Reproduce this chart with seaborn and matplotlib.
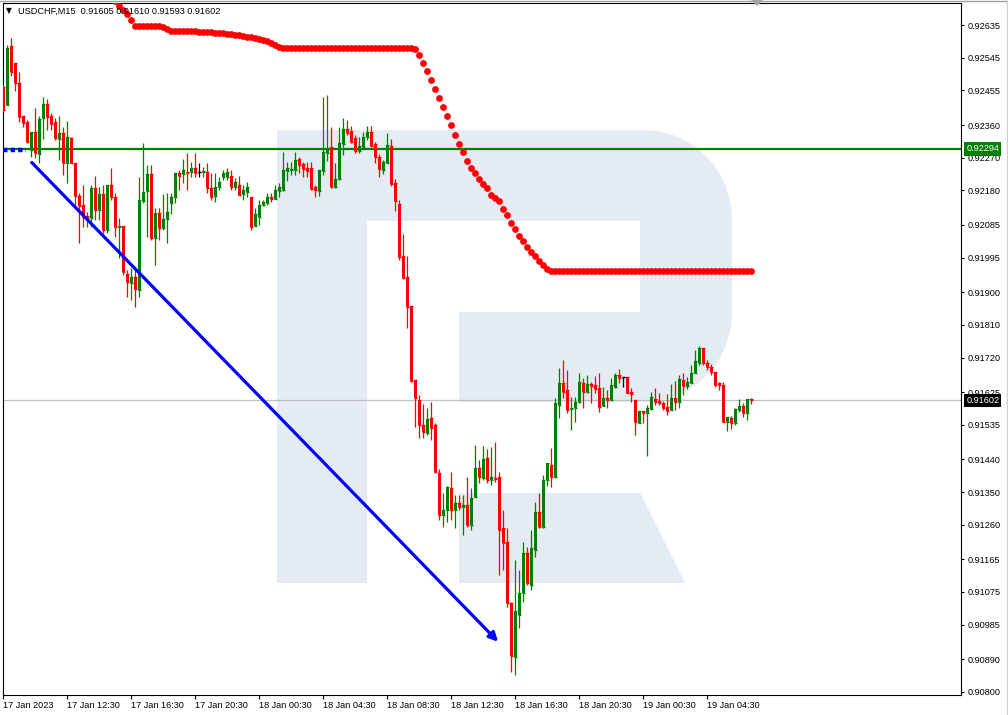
import matplotlib
matplotlib.use("Agg")
import matplotlib.pyplot as plt
import matplotlib.transforms as mtransforms
from matplotlib.lines import Line2D
from matplotlib.patches import PathPatch, Polygon
from matplotlib.path import Path
import numpy as np
import pandas as pd
import seaborn as sns

sns.set_theme(style="white")
plt.rcParams["font.family"] = ["Liberation Sans", "DejaVu Sans"]

# ──────────────────────────────────────────────────────────────────
# Data: USDCHF M15 candles (index 0 = 17 Jan 08:30)
# ──────────────────────────────────────────────────────────────────

opens = [
    0.92465, 0.92415, 0.92577, 0.92531, 0.92476, 0.92385, 0.92368, 0.92291, 0.92341, 0.92280,
    0.92379, 0.92418, 0.92385, 0.92368, 0.92321, 0.92338, 0.92255, 0.92324, 0.92255, 0.92165,
    0.92140, 0.92110, 0.92104, 0.92187, 0.92126, 0.92170, 0.92071, 0.92195, 0.92162, 0.92079,
    0.92082, 0.91950, 0.91925, 0.91942, 0.91906, 0.92151, 0.92178, 0.92225, 0.92049, 0.92118,
    0.92077, 0.92101, 0.92145, 0.92162, 0.92228, 0.92225, 0.92231, 0.92231, 0.92242, 0.92231,
    0.92231, 0.92231, 0.92187, 0.92165, 0.92189, 0.92217, 0.92217, 0.92220, 0.92189, 0.92195,
    0.92170, 0.92176, 0.92162, 0.92082, 0.92107, 0.92140, 0.92145, 0.92162, 0.92156, 0.92178,
    0.92181, 0.92233, 0.92236, 0.92236, 0.92266, 0.92253, 0.92242, 0.92242, 0.92189, 0.92178,
    0.92233, 0.92283, 0.92299, 0.92189, 0.92211, 0.92308, 0.92349, 0.92343, 0.92324, 0.92288,
    0.92299, 0.92327, 0.92341, 0.92308, 0.92272, 0.92236, 0.92255, 0.92302, 0.92200, 0.92143,
    0.91999, 0.91942, 0.91862, 0.91658, 0.91603, 0.91534, 0.91512, 0.91554, 0.91534, 0.91402,
    0.91287, 0.91300, 0.91361, 0.91300, 0.91320, 0.91309, 0.91314, 0.91259, 0.91336, 0.91416,
    0.91389, 0.91444, 0.91383, 0.91389, 0.91391, 0.91251, 0.91212, 0.91045, 0.90896, 0.91012,
    0.91072, 0.91182, 0.91094, 0.91190, 0.91295, 0.91254, 0.91383, 0.91424, 0.91391, 0.91589,
    0.91650, 0.91631, 0.91578, 0.91581, 0.91598, 0.91650, 0.91625, 0.91647, 0.91644, 0.91636,
    0.91587, 0.91609, 0.91603, 0.91639, 0.91672, 0.91666, 0.91666, 0.91625, 0.91603, 0.91540,
    0.91573, 0.91567, 0.91578, 0.91606, 0.91600, 0.91595, 0.91584, 0.91576, 0.91609, 0.91598,
    0.91658, 0.91642, 0.91650, 0.91677, 0.91705, 0.91746, 0.91705, 0.91694, 0.91680, 0.91650,
    0.91644, 0.91543, 0.91554, 0.91540, 0.91576, 0.91587, 0.91567, 0.91605,
]

highs = [
    0.92470, 0.92580, 0.92599, 0.92531, 0.92506, 0.92385, 0.92374, 0.92341, 0.92407, 0.92385,
    0.92437, 0.92432, 0.92393, 0.92379, 0.92385, 0.92354, 0.92371, 0.92327, 0.92255, 0.92173,
    0.92195, 0.92121, 0.92195, 0.92220, 0.92189, 0.92195, 0.92195, 0.92242, 0.92173, 0.92104,
    0.92082, 0.91961, 0.91966, 0.91961, 0.92217, 0.92310, 0.92250, 0.92250, 0.92132, 0.92132,
    0.92170, 0.92173, 0.92173, 0.92228, 0.92236, 0.92266, 0.92283, 0.92258, 0.92283, 0.92255,
    0.92244, 0.92255, 0.92228, 0.92228, 0.92217, 0.92236, 0.92242, 0.92236, 0.92214, 0.92220,
    0.92195, 0.92203, 0.92162, 0.92132, 0.92154, 0.92154, 0.92173, 0.92173, 0.92195, 0.92200,
    0.92286, 0.92258, 0.92258, 0.92286, 0.92272, 0.92258, 0.92258, 0.92258, 0.92195, 0.92236,
    0.92437, 0.92443, 0.92354, 0.92255, 0.92354, 0.92379, 0.92374, 0.92357, 0.92332, 0.92327,
    0.92341, 0.92357, 0.92357, 0.92313, 0.92280, 0.92264, 0.92338, 0.92321, 0.92211, 0.92154,
    0.92060, 0.91999, 0.91862, 0.91658, 0.91617, 0.91592, 0.91581, 0.91598, 0.91540, 0.91413,
    0.91347, 0.91367, 0.91405, 0.91342, 0.91342, 0.91342, 0.91391, 0.91361, 0.91479, 0.91438,
    0.91477, 0.91468, 0.91474, 0.91488, 0.91405, 0.91300, 0.91251, 0.91047, 0.91163, 0.91135,
    0.91212, 0.91199, 0.91245, 0.91323, 0.91347, 0.91397, 0.91430, 0.91471, 0.91609, 0.91691,
    0.91713, 0.91686, 0.91611, 0.91611, 0.91677, 0.91664, 0.91672, 0.91653, 0.91669, 0.91677,
    0.91639, 0.91631, 0.91664, 0.91677, 0.91688, 0.91666, 0.91666, 0.91636, 0.91603, 0.91573,
    0.91573, 0.91589, 0.91625, 0.91636, 0.91622, 0.91600, 0.91620, 0.91647, 0.91655, 0.91672,
    0.91677, 0.91666, 0.91700, 0.91741, 0.91752, 0.91746, 0.91713, 0.91702, 0.91680, 0.91653,
    0.91653, 0.91556, 0.91559, 0.91581, 0.91606, 0.91595, 0.91606, 0.91610,
]

lows = [
    0.92396, 0.92415, 0.92495, 0.92454, 0.92368, 0.92354, 0.92310, 0.92272, 0.92269, 0.92255,
    0.92321, 0.92346, 0.92346, 0.92319, 0.92264, 0.92222, 0.92200, 0.92255, 0.92140, 0.92035,
    0.92079, 0.92079, 0.92079, 0.92099, 0.92099, 0.92063, 0.92063, 0.92154, 0.92052, 0.91994,
    0.91947, 0.91887, 0.91878, 0.91859, 0.91887, 0.92145, 0.92052, 0.92044, 0.91975, 0.92044,
    0.92071, 0.92035, 0.92115, 0.92145, 0.92181, 0.92200, 0.92181, 0.92217, 0.92217, 0.92217,
    0.92217, 0.92173, 0.92154, 0.92148, 0.92181, 0.92209, 0.92209, 0.92181, 0.92181, 0.92167,
    0.92154, 0.92162, 0.92071, 0.92082, 0.92085, 0.92137, 0.92140, 0.92148, 0.92156, 0.92162,
    0.92178, 0.92206, 0.92222, 0.92222, 0.92228, 0.92217, 0.92217, 0.92181, 0.92162, 0.92165,
    0.92222, 0.92261, 0.92187, 0.92187, 0.92209, 0.92277, 0.92332, 0.92310, 0.92283, 0.92283,
    0.92297, 0.92319, 0.92299, 0.92255, 0.92217, 0.92225, 0.92255, 0.92192, 0.92123, 0.91988,
    0.91936, 0.91801, 0.91653, 0.91529, 0.91499, 0.91499, 0.91507, 0.91493, 0.91402, 0.91273,
    0.91254, 0.91267, 0.91273, 0.91251, 0.91300, 0.91232, 0.91254, 0.91245, 0.91336, 0.91375,
    0.91383, 0.91375, 0.91369, 0.91378, 0.91122, 0.91135, 0.91034, 0.90855, 0.90846, 0.90976,
    0.91047, 0.91094, 0.91080, 0.91171, 0.91251, 0.91251, 0.91367, 0.91364, 0.91389, 0.91554,
    0.91609, 0.91567, 0.91521, 0.91543, 0.91595, 0.91581, 0.91622, 0.91595, 0.91622, 0.91570,
    0.91587, 0.91581, 0.91603, 0.91636, 0.91650, 0.91639, 0.91622, 0.91598, 0.91507, 0.91540,
    0.91540, 0.91449, 0.91576, 0.91589, 0.91589, 0.91576, 0.91562, 0.91576, 0.91576, 0.91581,
    0.91617, 0.91633, 0.91650, 0.91677, 0.91700, 0.91700, 0.91686, 0.91672, 0.91639, 0.91631,
    0.91543, 0.91518, 0.91523, 0.91534, 0.91570, 0.91556, 0.91548, 0.91593,
]

closes = [
    0.92401, 0.92572, 0.92506, 0.92476, 0.92382, 0.92366, 0.92313, 0.92341, 0.92283, 0.92377,
    0.92418, 0.92382, 0.92363, 0.92324, 0.92338, 0.92255, 0.92327, 0.92255, 0.92165, 0.92137,
    0.92107, 0.92104, 0.92187, 0.92126, 0.92170, 0.92071, 0.92195, 0.92162, 0.92079, 0.92082,
    0.91955, 0.91928, 0.91942, 0.91909, 0.92154, 0.92176, 0.92225, 0.92049, 0.92118, 0.92077,
    0.92101, 0.92121, 0.92162, 0.92228, 0.92220, 0.92236, 0.92228, 0.92242, 0.92228, 0.92231,
    0.92233, 0.92187, 0.92162, 0.92189, 0.92203, 0.92228, 0.92231, 0.92189, 0.92203, 0.92167,
    0.92181, 0.92189, 0.92079, 0.92115, 0.92140, 0.92148, 0.92162, 0.92156, 0.92181, 0.92189,
    0.92236, 0.92242, 0.92239, 0.92264, 0.92250, 0.92239, 0.92233, 0.92184, 0.92181, 0.92236,
    0.92286, 0.92297, 0.92189, 0.92211, 0.92310, 0.92349, 0.92338, 0.92313, 0.92288, 0.92302,
    0.92327, 0.92341, 0.92302, 0.92272, 0.92239, 0.92258, 0.92305, 0.92198, 0.92151, 0.91997,
    0.91939, 0.91859, 0.91655, 0.91609, 0.91534, 0.91515, 0.91551, 0.91526, 0.91405, 0.91287,
    0.91300, 0.91364, 0.91300, 0.91320, 0.91309, 0.91314, 0.91259, 0.91334, 0.91416, 0.91391,
    0.91441, 0.91383, 0.91391, 0.91386, 0.91245, 0.91210, 0.91045, 0.90899, 0.91023, 0.91072,
    0.91182, 0.91100, 0.91196, 0.91295, 0.91254, 0.91383, 0.91430, 0.91391, 0.91595, 0.91650,
    0.91625, 0.91576, 0.91581, 0.91598, 0.91653, 0.91625, 0.91647, 0.91642, 0.91633, 0.91584,
    0.91609, 0.91603, 0.91644, 0.91672, 0.91664, 0.91666, 0.91622, 0.91620, 0.91543, 0.91573,
    0.91567, 0.91581, 0.91611, 0.91598, 0.91595, 0.91581, 0.91573, 0.91609, 0.91598, 0.91661,
    0.91642, 0.91653, 0.91677, 0.91711, 0.91746, 0.91705, 0.91694, 0.91680, 0.91644, 0.91644,
    0.91543, 0.91556, 0.91540, 0.91578, 0.91587, 0.91567, 0.91606, 0.91602,
]

# red dotted indicator, first visible point at candle 28
stop_start = 28
stop_values = [
    0.92701, 0.92688, 0.92676, 0.92665, 0.92649,
    0.92632, 0.92632, 0.92632, 0.92632, 0.92632, 0.92632, 0.92632,
    0.92630, 0.92624,
    0.92619, 0.92619, 0.92619, 0.92619, 0.92619, 0.92618, 0.92618, 0.92617, 0.92617, 0.92616, 0.92616,
    0.92613, 0.92613, 0.92612, 0.92611, 0.92610, 0.92609, 0.92608,
    0.92605, 0.92603, 0.92601, 0.92599, 0.92597, 0.92595,
    0.92591, 0.92586, 0.92580, 0.92575,
    0.92572, 0.92572, 0.92572, 0.92572, 0.92572, 0.92572, 0.92572, 0.92572, 0.92572, 0.92572, 0.92572,
    0.92572, 0.92572, 0.92572, 0.92572, 0.92572, 0.92572, 0.92572, 0.92572, 0.92572, 0.92572, 0.92572,
    0.92572, 0.92572, 0.92572, 0.92572, 0.92572, 0.92572, 0.92572, 0.92572, 0.92572, 0.92572, 0.92572,
    0.92569, 0.92553, 0.92531, 0.92509, 0.92484, 0.92459, 0.92434, 0.92410, 0.92385, 0.92360,
    0.92333, 0.92308, 0.92286, 0.92261, 0.92242, 0.92228, 0.92211, 0.92198, 0.92187, 0.92167,
    0.92159, 0.92151, 0.92129, 0.92112, 0.92090, 0.92074, 0.92055, 0.92041, 0.92024, 0.92011,
    0.91999, 0.91986, 0.91975, 0.91964,
    0.91958, 0.91958, 0.91958, 0.91958, 0.91958, 0.91958, 0.91958, 0.91958, 0.91958, 0.91958,
    0.91958, 0.91958, 0.91958, 0.91958, 0.91958, 0.91958, 0.91958, 0.91958, 0.91958, 0.91958,
    0.91958, 0.91958, 0.91958, 0.91958, 0.91958, 0.91958, 0.91958, 0.91958, 0.91958, 0.91958,
    0.91958, 0.91958, 0.91958, 0.91958, 0.91958, 0.91958, 0.91958, 0.91958, 0.91958, 0.91958,
    0.91958, 0.91958, 0.91958, 0.91958, 0.91958, 0.91958, 0.91958, 0.91958, 0.91958, 0.91958,
    0.91958,
]

level_price = 0.92294
bid_price = 0.91602
arrow_from = (7.1, 0.92257)
arrow_to = (123.7, 0.90938)

price_ticks = [0.92635, 0.92545, 0.92455, 0.92360, 0.92270, 0.92180, 0.92085, 0.91995,
               0.91900, 0.91810, 0.91720, 0.91625, 0.91535, 0.91440, 0.91350, 0.91260,
               0.91165, 0.91075, 0.90985, 0.90890, 0.90800]
time_tick_idx = [0, 16, 32, 48, 64, 80, 96, 112, 128, 144, 160, 176]
time_tick_labels = ["17 Jan 2023", "17 Jan 12:30", "17 Jan 16:30", "17 Jan 20:30",
                    "18 Jan 00:30", "18 Jan 04:30", "18 Jan 08:30", "18 Jan 12:30",
                    "18 Jan 16:30", "18 Jan 20:30", "19 Jan 00:30", "19 Jan 04:30"]

title = "USDCHF,M15  0.91605 0.91610 0.91593 0.91602"

GREEN = "#008000"
RED = "#ff0000"
LOGO = "#e5ebf3"
FS = 6.6

# ──────────────────────────────────────────────────────────────────
# Figure
# ──────────────────────────────────────────────────────────────────

W, H = 1008, 715
fig = plt.figure(figsize=(W / 100, H / 100), dpi=100)
ax = fig.add_axes([3 / W, 1 - 695 / H, 958 / W, (695 - 3.5) / H])


def px(x, y):
    return (x / W, 1 - y / H)


# watermark logo
M, L, C, Z = Path.MOVETO, Path.LINETO, Path.CURVE4, Path.CLOSEPOLY
logo_pts = [(277, 130), (643, 130), (693, 130), (732, 170), (732, 220), (732, 312),
            (732, 362), (693, 402), (643, 402), (459, 402), (459, 312), (640, 312),
            (640, 221), (367, 221), (367, 583), (277, 583), (277, 130)]
logo_codes = [M, L, C, C, C, L, C, C, C, L, L, L, L, L, L, L, Z]
ax.add_patch(PathPatch(Path([px(*p) for p in logo_pts], logo_codes),
                       transform=fig.transFigure, fc=LOGO, ec="none", zorder=0.5))
ax.add_patch(Polygon([px(459, 493), px(640, 493), px(685, 583), px(459, 583)],
                     transform=fig.transFigure, fc=LOGO, ec="none", zorder=0.5))

df = pd.DataFrame({"open": opens, "high": highs, "low": lows, "close": closes})
df["idx"] = np.arange(len(df))
colors = np.where(df["close"] > df["open"], GREEN,
                  np.where(df["close"] < df["open"], RED, "black"))

ax.axhline(bid_price, color="#c0c0c0", lw=0.9, zorder=1.5)
ax.axhline(level_price, color=GREEN, lw=1.6, zorder=2.2)

# candles
ax.vlines(df["idx"], df["low"], df["high"], colors=colors, lw=0.9, zorder=3)
body_lo = df[["open", "close"]].min(axis=1)
body_h = (df["close"] - df["open"]).abs()
ax.bar(df["idx"], body_h, bottom=body_lo, width=0.72, color=colors, lw=0, zorder=3)
ax.hlines(df["open"], df["idx"] - 0.36, df["idx"] + 0.36, colors=colors, lw=0.9, zorder=3)
ax.hlines(df["close"], df["idx"] - 0.36, df["idx"] + 0.36, colors=colors, lw=0.9, zorder=3)

# red dot indicator
stop_idx = np.arange(stop_start, stop_start + len(stop_values))
sns.scatterplot(x=stop_idx, y=stop_values, ax=ax, color=RED, s=24, linewidth=0,
                zorder=4, legend=False)

# blue trend arrow and its selection mark
ax.annotate("", xy=arrow_to, xytext=arrow_from,
            arrowprops=dict(arrowstyle="-|>", color="#0000ff", lw=2.3,
                            mutation_scale=13, shrinkA=0, shrinkB=0), zorder=4)
ax.plot([-0.1, 5.7], [level_price - 0.00003] * 2, color="#0000ff", lw=3.2,
        ls=(0, (1, 0.7)), zorder=3.5, solid_capstyle="butt")

# axes
ax.set_xlim(-0.075, 239.4)
ax.set_ylim(0.907914, 0.926944)
ax.yaxis.tick_right()
ax.set_yticks(price_ticks)
ax.set_yticklabels([f"{v:.5f}" for v in price_ticks])
ax.set_xticks(time_tick_idx)
ax.set_xticklabels(time_tick_labels, ha="left")
ax.tick_params(axis="y", direction="out", length=2.5, width=0.8, pad=2,
               labelsize=FS, colors="black", right=True, left=False)
ax.tick_params(axis="x", direction="out", length=2.8, width=0.8, pad=1.2,
               labelsize=FS, colors="black", bottom=True)
for s in ax.spines.values():
    s.set_color("black")
    s.set_linewidth(0.8)
    s.set_visible(True)
ax.grid(False)

trans = mtransforms.blended_transform_factory(ax.transAxes, ax.transData)
for price, bg in [(level_price, GREEN), (bid_price, "black")]:
    ax.text(1.0055, price, f"{price:.5f}", transform=trans, color="white", fontsize=FS,
            va="center", ha="left", zorder=6, clip_on=False,
            bbox=dict(boxstyle="square,pad=0.22", fc=bg, ec="none"))

# title
fig.text(*px(6, 11), "\u25bc", fontsize=5.5, va="center", ha="left", color="black",
         family=["DejaVu Sans"])
fig.text(*px(18, 11), title, fontsize=FS, va="center", ha="left", color="black", zorder=1)

# chart shift marker and window border
fig.add_artist(Polygon([px(751, 0), px(763, 0), px(757, 6)], transform=fig.transFigure,
                       fc="#a8a8a8", ec="none"))
fig.add_artist(Line2D([0, 1], [1 - 0.5 / H] * 2, transform=fig.transFigure,
                      color="#a0a0a0", lw=1))
fig.add_artist(Line2D([1006.5 / W] * 2, [0, 1], transform=fig.transFigure,
                      color="#d0d0d0", lw=1))

fig.savefig("out.png", dpi=100)
plt.close(fig)
